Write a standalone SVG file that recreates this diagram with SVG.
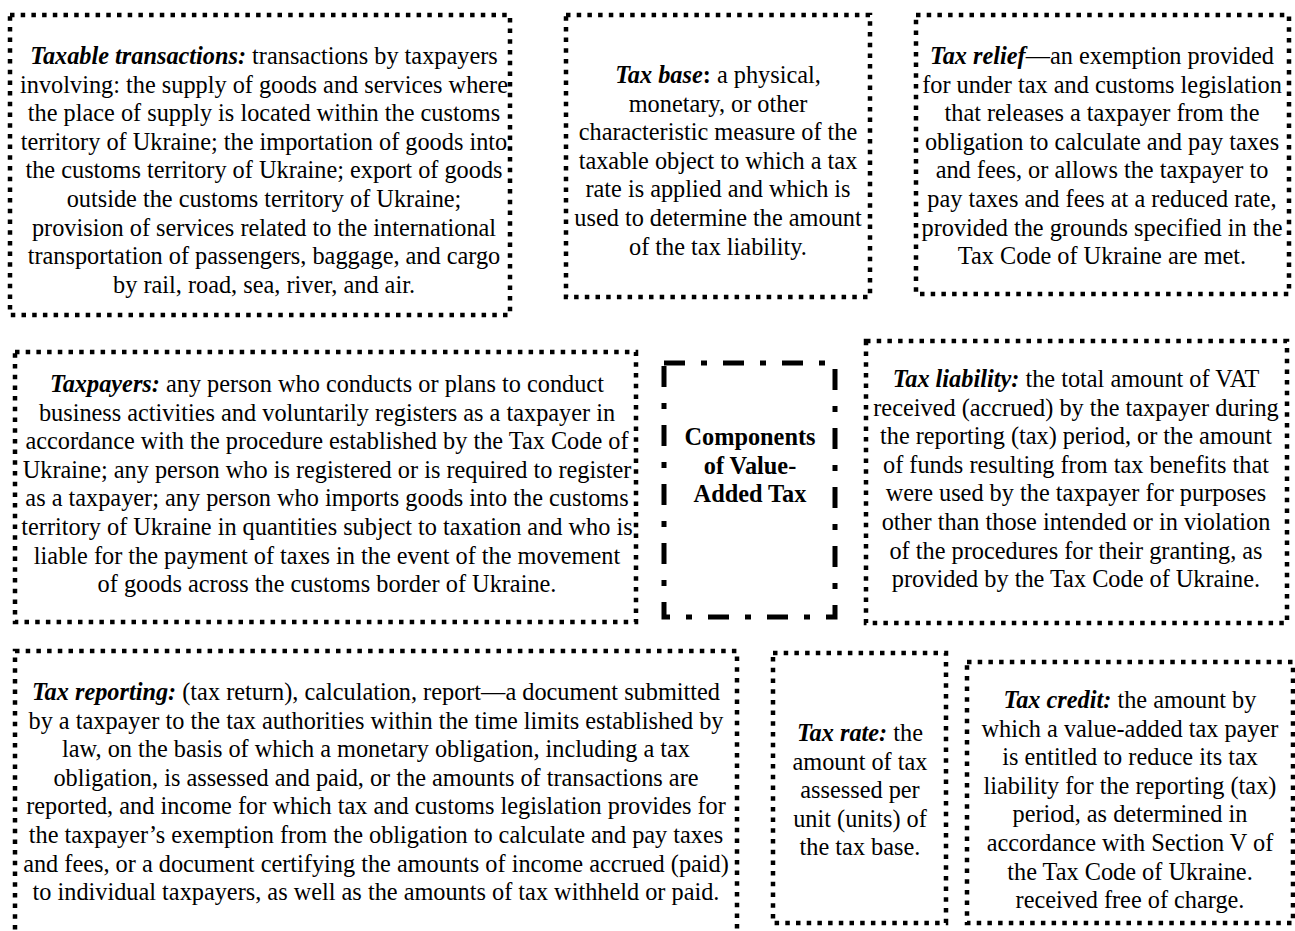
<svg xmlns="http://www.w3.org/2000/svg" width="1295" height="931" viewBox="0 0 1295 931">
<style>
.dot{fill:none;stroke:#000;stroke-width:4.5;stroke-dasharray:4.5 6.2}
.dd{fill:none;stroke:#000;stroke-width:5;stroke-dasharray:21 16 6 16}
text{font-family:"Liberation Serif","Times New Roman",Tinos,"Nimbus Roman","Nimbus Roman No9 L","DejaVu Serif",serif;font-size:24.3px;fill:#000;text-anchor:middle}
.bi{font-weight:bold;font-style:italic}
.b{font-weight:bold}
</style>
<rect width="1295" height="931" fill="#fff"/>
<g id="connectors"></g>
<g id="taxable-transactions">
<rect class="dot" x="10" y="15" width="500" height="300"/>
<text x="264" y="64"><tspan class="bi">Taxable transactions:</tspan> transactions by taxpayers</text>
<text x="264" y="92.6">involving: the supply of goods and services where</text>
<text x="264" y="121.2">the place of supply is located within the customs</text>
<text x="264" y="149.8">territory of Ukraine; the importation of goods into</text>
<text x="264" y="178.4">the customs territory of Ukraine;  export of goods</text>
<text x="264" y="207">outside the customs territory of Ukraine;</text>
<text x="264" y="235.6">provision of services related to the international</text>
<text x="264" y="264.2">transportation of passengers, baggage, and cargo</text>
<text x="264" y="292.8">by rail, road, sea, river, and air.</text>
</g>
<g id="tax-base">
<rect class="dot" x="566" y="15" width="304" height="282"/>
<text x="718" y="83"><tspan class="bi">Tax base</tspan><tspan class="b">:</tspan> a physical,</text>
<text x="718" y="111.6">monetary, or other</text>
<text x="718" y="140.2">characteristic measure of the</text>
<text x="718" y="168.8">taxable object to which a tax</text>
<text x="718" y="197.4">rate is applied and which is</text>
<text x="718" y="226">used to determine the amount</text>
<text x="718" y="254.6">of the tax liability.</text>
</g>
<g id="tax-relief">
<rect class="dot" x="916" y="15" width="373" height="279"/>
<text x="1102" y="64"><tspan class="bi">Tax relief</tspan>—an exemption provided</text>
<text x="1102" y="92.6">for under tax and customs legislation</text>
<text x="1102" y="121.2">that releases a taxpayer from the</text>
<text x="1102" y="149.8">obligation to calculate and pay taxes</text>
<text x="1102" y="178.4">and fees, or allows the taxpayer to</text>
<text x="1102" y="207">pay taxes and fees at a reduced rate,</text>
<text x="1102" y="235.6">provided the grounds specified in the</text>
<text x="1102" y="264.2">Tax Code of Ukraine are met.</text>
</g>
<g id="taxpayers">
<rect class="dot" x="15" y="352" width="621" height="270"/>
<text x="327" y="392"><tspan class="bi">Taxpayers:</tspan> any person who conducts or plans to conduct</text>
<text x="327" y="420.6">business activities and voluntarily registers as a taxpayer in</text>
<text x="327" y="449.2">accordance with the procedure established by the Tax Code of</text>
<text x="327" y="477.8">Ukraine; any person who is registered or is required to register</text>
<text x="327" y="506.4">as a taxpayer; any person who imports goods into the customs</text>
<text x="327" y="535">territory of Ukraine in quantities subject to taxation and who is</text>
<text x="327" y="563.6">liable for the payment of taxes in the event of the movement</text>
<text x="327" y="592.2">of goods across the customs border of Ukraine.</text>
</g>
<g id="components">
<rect class="dd" x="664" y="363" width="171" height="254"/>
<text class="b" x="750" y="445">Components</text>
<text class="b" x="750" y="473.6">of Value-</text>
<text class="b" x="750" y="502.2">Added Tax</text>
</g>
<g id="tax-liability">
<rect class="dot" x="866" y="341" width="421" height="282"/>
<text x="1076" y="387"><tspan class="bi">Tax liability:</tspan> the total amount of VAT</text>
<text x="1076" y="415.6">received (accrued) by the taxpayer during</text>
<text x="1076" y="444.2">the reporting (tax) period, or the amount</text>
<text x="1076" y="472.8">of funds resulting from tax benefits that</text>
<text x="1076" y="501.4">were used by the taxpayer for purposes</text>
<text x="1076" y="530">other than those intended or in violation</text>
<text x="1076" y="558.6">of the procedures for their granting, as</text>
<text x="1076" y="587.2">provided by the Tax Code of Ukraine.</text>
</g>
<g id="tax-reporting">
<rect class="dot" x="15" y="651" width="722" height="300"/>
<text x="376" y="700"><tspan class="bi">Tax reporting:</tspan> (tax return), calculation, report—a document submitted</text>
<text x="376" y="728.6">by a taxpayer to the tax authorities within the time limits established by</text>
<text x="376" y="757.2">law, on the basis of which a monetary obligation, including a tax</text>
<text x="376" y="785.8">obligation, is assessed and paid, or the amounts of transactions are</text>
<text x="376" y="814.4">reported, and income for which tax and customs legislation provides for</text>
<text x="376" y="843">the taxpayer’s exemption from the obligation to calculate and pay taxes</text>
<text x="376" y="871.6">and fees, or a document certifying the amounts of income accrued (paid)</text>
<text x="376" y="900.2">to individual taxpayers, as well as the amounts of tax withheld or paid.</text>
</g>
<g id="tax-rate">
<rect class="dot" x="773" y="653" width="173" height="270"/>
<text x="860" y="741"><tspan class="bi">Tax rate:</tspan> the</text>
<text x="860" y="769.6">amount of tax</text>
<text x="860" y="798.2">assessed per</text>
<text x="860" y="826.8">unit (units) of</text>
<text x="860" y="855.4">the tax base.</text>
</g>
<g id="tax-credit">
<rect class="dot" x="967" y="662" width="326" height="261"/>
<text x="1130" y="708"><tspan class="bi">Tax credit:</tspan> the amount by</text>
<text x="1130" y="736.6">which a value-added tax payer</text>
<text x="1130" y="765.2">is entitled to reduce its tax</text>
<text x="1130" y="793.8">liability for the reporting (tax)</text>
<text x="1130" y="822.4">period, as determined in</text>
<text x="1130" y="851">accordance with Section V of</text>
<text x="1130" y="879.6">the Tax Code of Ukraine.</text>
<text x="1130" y="908.2">received free of charge.</text>
</g>
</svg>
